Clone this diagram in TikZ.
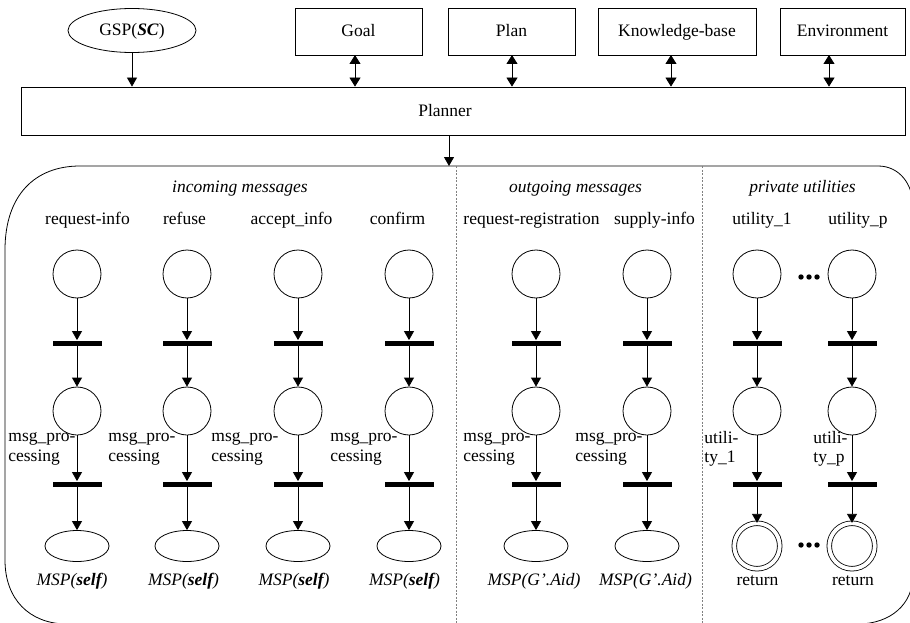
\documentclass[tikz,border=0pt]{standalone}
\usepackage{fontspec}
\setmainfont{Liberation Serif}
\usetikzlibrary{arrows.meta,shapes.geometric}

\begin{document}
\begin{tikzpicture}[x=1pt, y=-1pt, line width=0.8pt,
    every node/.style = {font=\fontsize{17.5}{19.5}\selectfont},
    txt/.style = {text height=12, text depth=1},
    box/.style = {draw, rectangle, minimum height=47, txt},
    place/.style = {draw, circle, minimum size=48, inner sep=0},
    bar/.style = {fill, rectangle, minimum width=49, minimum height=5, inner sep=0},
    sink/.style = {draw, ellipse, minimum width=64, minimum height=31, inner sep=0},
    final/.style = {draw, circle, double, double distance=3.8, minimum size=45.5, inner sep=0},
    side/.style = {anchor=west, align=left, inner sep=0},
    arr/.style = {-{Triangle[length=9pt,width=10pt]}},
    darr/.style = {{Triangle[length=9pt,width=11pt]}-{Triangle[length=9pt,width=11pt]}}]

    \useasboundingbox (0,0) rectangle (910,623);
    \clip (0,0) rectangle (910,623);

    % top row
    \node[draw, ellipse, minimum width=128, minimum height=44, inner sep=0, txt] (gsp) at (132,30.5) {GSP(\textbf{\textit{SC}})};
    \node[box, minimum width=127] (goal) at (358.5,31.5) {Goal};
    \node[box, minimum width=127] (plan) at (511.5,31.5) {Plan};
    \node[box, minimum width=158] (kb) at (677,31.5) {Knowledge-base};
    \node[box, minimum width=125] (env) at (842.5,31.5) {Environment};

    \node[box, minimum width=884, minimum height=48] (planner) at (463,111) {};
    \node[txt] (plannerlabel) at (445,111) {Planner};

    \coordinate (goalport) at (355,55);
    \coordinate (planport) at (512,55);
    \coordinate (kbport) at (671,55);
    \coordinate (envport) at (829,55);
    \coordinate (cont) at (449,166);

    \draw[arr] (gsp.south) -- (gsp.south |- planner.north);
    \draw[darr] (goalport) -- (goalport |- planner.north);
    \draw[darr] (planport) -- (planport |- planner.north);
    \draw[darr] (kbport) -- (kbport |- planner.north);
    \draw[darr] (envport) -- (envport |- planner.north);
    \draw[arr] (planner.south -| cont) -- (cont);

    % container
    \draw (5,250) .. controls (5,195) and (35,166) .. (80,166) -- (878,166)
        .. controls (900,166) and (913,185) .. (913,206) -- (913,575)
        .. controls (913,605) and (890,623) .. (860,624) -- (65,624)
        .. controls (30,623) and (5,600) .. (5,560) -- cycle;
    \draw[line width=0.5pt, dash pattern=on 2pt off 1.5pt, gray] (456,166) -- (456,623);
    \draw[line width=0.5pt, dash pattern=on 2pt off 1.5pt, gray] (702,166) -- (702,623);

    \node[txt] (intitle) at (240,187) {\textit{incoming messages}};
    \node[txt] (outtitle) at (575.5,187) {\textit{outgoing messages}};
    \node[txt] (utiltitle) at (802.5,187) {\textit{private utilities}};

    % request-info
    \node[txt] (alab) at (87.5,219) {request-info};
    \node[place] (ap1) at (77,274) {};
    \node[bar] (at1) at (77,343) {};
    \node[place] (ap2) at (77,411) {};
    \node[bar] (at2) at (77,484) {};
    \node[sink] (ap3) at (77,546) {};
    \node[side] (aside) at (8,449) {msg\_pro-\\cessing};
    \node[txt] (aout) at (72,580) {\textit{MSP(\textbf{self})}};
    \draw[arr] (ap1) -- (at1);
    \draw[arr] (at1) -- (ap2);
    \draw[arr] (ap2) -- (at2);
    \draw[arr] (at2) -- (ap3);

    % refuse
    \node[txt] (blab) at (184.5,219) {refuse};
    \node[place] (bp1) at (187,274) {};
    \node[bar] (bt1) at (187,343) {};
    \node[place] (bp2) at (187,411) {};
    \node[bar] (bt2) at (187,484) {};
    \node[sink] (bp3) at (187,546) {};
    \node[side] (bside) at (108,449) {msg\_pro-\\cessing};
    \node[txt] (bout) at (183.5,580) {\textit{MSP(\textbf{self})}};
    \draw[arr] (bp1) -- (bt1);
    \draw[arr] (bt1) -- (bp2);
    \draw[arr] (bp2) -- (bt2);
    \draw[arr] (bt2) -- (bp3);

    % accept_info
    \node[txt] (clab) at (291.5,219) {accept\_info};
    \node[place] (cp1) at (298,274) {};
    \node[bar] (ct1) at (298,343) {};
    \node[place] (cp2) at (298,411) {};
    \node[bar] (ct2) at (298,484) {};
    \node[sink] (cp3) at (298,546) {};
    \node[side] (cside) at (211,449) {msg\_pro-\\cessing};
    \node[txt] (cout) at (294,580) {\textit{MSP(\textbf{self})}};
    \draw[arr] (cp1) -- (ct1);
    \draw[arr] (ct1) -- (cp2);
    \draw[arr] (cp2) -- (ct2);
    \draw[arr] (ct2) -- (cp3);

    % confirm
    \node[txt] (dlab) at (397.5,219) {confirm};
    \node[place] (dp1) at (409,274) {};
    \node[bar] (dt1) at (409,343) {};
    \node[place] (dp2) at (409,411) {};
    \node[bar] (dt2) at (409,484) {};
    \node[sink] (dp3) at (409,546) {};
    \node[side] (dside) at (330,449) {msg\_pro-\\cessing};
    \node[txt] (dout) at (404.5,580) {\textit{MSP(\textbf{self})}};
    \draw[arr] (dp1) -- (dt1);
    \draw[arr] (dt1) -- (dp2);
    \draw[arr] (dp2) -- (dt2);
    \draw[arr] (dt2) -- (dp3);

    % request-registration
    \node[txt] (elab) at (531.5,219) {request-registration};
    \node[place] (ep1) at (536,274) {};
    \node[bar] (et1) at (536,343) {};
    \node[place] (ep2) at (536,411) {};
    \node[bar] (et2) at (536,484) {};
    \node[sink] (ep3) at (536,546) {};
    \node[side] (eside) at (463,449) {msg\_pro-\\cessing};
    \node[txt] (eout) at (534,580) {\textit{MSP(G’.Aid)}};
    \draw[arr] (ep1) -- (et1);
    \draw[arr] (et1) -- (ep2);
    \draw[arr] (ep2) -- (et2);
    \draw[arr] (et2) -- (ep3);

    % supply-info
    \node[txt] (flab) at (654.5,219) {supply-info};
    \node[place] (fp1) at (647,274) {};
    \node[bar] (ft1) at (647,343) {};
    \node[place] (fp2) at (647,411) {};
    \node[bar] (ft2) at (647,484) {};
    \node[sink] (fp3) at (647,546) {};
    \node[side] (fside) at (575,449) {msg\_pro-\\cessing};
    \node[txt] (fout) at (645.5,580) {\textit{MSP(G’.Aid)}};
    \draw[arr] (fp1) -- (ft1);
    \draw[arr] (ft1) -- (fp2);
    \draw[arr] (fp2) -- (ft2);
    \draw[arr] (ft2) -- (fp3);

    % utility_1
    \node[txt] (glab) at (762,219) {utility\_1};
    \node[place] (gp1) at (757,274) {};
    \node[bar] (gt1) at (757,343) {};
    \node[place] (gp2) at (757,411) {};
    \node[bar] (gt2) at (757,484) {};
    \node[final] (gp3) at (757,546) {};
    \node[side] (gside) at (704,449) {utili-\\ty\_1};
    \node[txt] (gout) at (757.5,580) {return};
    \draw[arr] (gp1) -- (gt1);
    \draw[arr] (gt1) -- (gp2);
    \draw[arr] (gp2) -- (gt2);
    \draw[arr] (gt2) -- (gp3);

    % utility_p
    \node[txt] (hlab) at (858,219) {utility\_p};
    \node[place] (hp1) at (852,274) {};
    \node[bar] (ht1) at (852,343) {};
    \node[place] (hp2) at (852,411) {};
    \node[bar] (ht2) at (852,484) {};
    \node[final] (hp3) at (852,546) {};
    \node[side] (hside) at (813,449) {utili-\\ty\_p};
    \node[txt] (hout) at (853,580) {return};
    \draw[arr] (hp1) -- (ht1);
    \draw[arr] (ht1) -- (hp2);
    \draw[arr] (hp2) -- (ht2);
    \draw[arr] (ht2) -- (hp3);

    % dots
    \fill (801,277) circle (2.7) (809,277) circle (2.7) (817,277) circle (2.7);
    \fill (801,545) circle (2.7) (809,545) circle (2.7) (817,545) circle (2.7);

\end{tikzpicture}
\end{document}
